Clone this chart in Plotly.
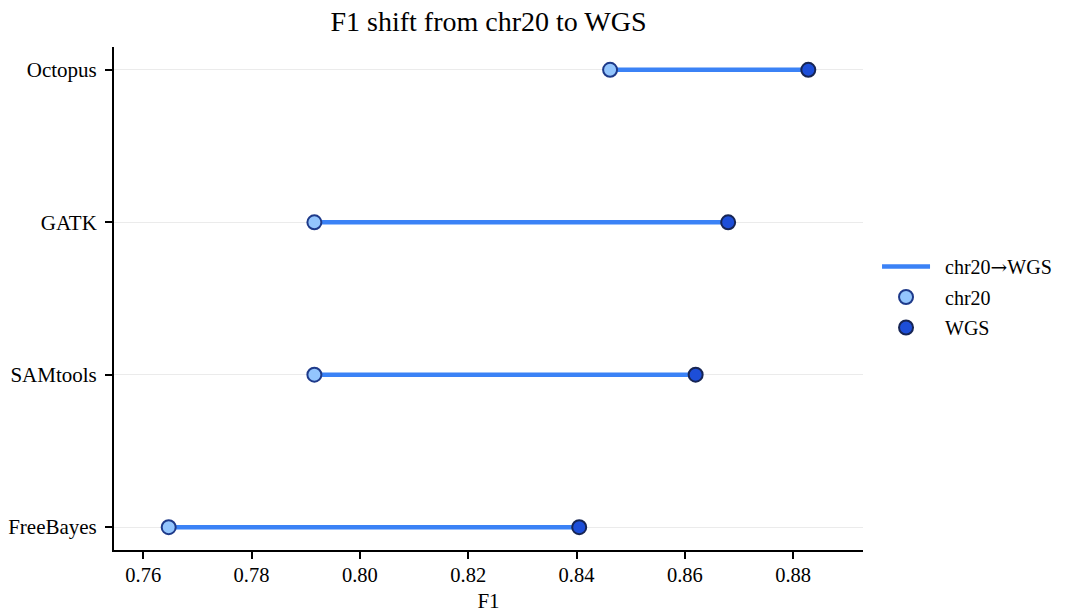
import plotly.graph_objects as go

tools = ["FreeBayes", "SAMtools", "GATK", "Octopus"]
f1_chr20 = [0.7647, 0.7916, 0.7916, 0.8462]
f1_wgs = [0.8405, 0.8620, 0.8680, 0.8828]

FONT = "Liberation Serif, Times New Roman, serif"
PAD = "&nbsp;&nbsp;"

line_x, line_y = [], []
for t, a, b in zip(tools, f1_chr20, f1_wgs):
    line_x += [a, b, None]
    line_y += [t, t, None]

fig = go.Figure()
fig.add_trace(go.Scatter(
    x=line_x, y=line_y, mode="lines",
    name=PAD + 'chr20<span style="font-family:DejaVu Serif">→</span>WGS',
    line=dict(color="#3b82f6", width=4.5), legendgroup="a",
))
fig.add_trace(go.Scatter(
    x=f1_chr20, y=tools, mode="markers", name=PAD + "chr20",
    marker=dict(size=14, color="#93c5fd", line=dict(color="#1e3a8a", width=2)),
    legendgroup="b",
))
fig.add_trace(go.Scatter(
    x=f1_wgs, y=tools, mode="markers", name=PAD + "WGS",
    marker=dict(size=14, color="#1d4ed8", line=dict(color="#172554", width=2)),
    legendgroup="c",
))

fig.update_layout(
    width=1065, height=613,
    margin=dict(l=114, r=202, t=47, b=63),
    paper_bgcolor="white", plot_bgcolor="white",
    font=dict(family=FONT, color="black", size=20),
    title=dict(text="F1 shift from chr20 to WGS", x=0.4587, xanchor="center",
               y=0.965, yanchor="middle", font=dict(size=28, family=FONT)),
    xaxis=dict(
        range=[0.7546, 0.8929], tickvals=[0.76, 0.78, 0.80, 0.82, 0.84, 0.86, 0.88],
        ticktext=["0.76", "0.78", "0.80", "0.82", "0.84", "0.86", "0.88"],
        showgrid=False, zeroline=False, showline=True, linecolor="black", linewidth=2,
        ticks="outside", ticklen=7, tickwidth=1.5, tickcolor="black",
        ticklabelstandoff=-2, automargin=False,
        title=dict(text="F1", font=dict(size=21), standoff=20),
        tickfont=dict(size=20.5),
    ),
    yaxis=dict(
        range=[-0.15, 3.15], categoryorder="array", categoryarray=tools,
        showgrid=True, gridcolor="#ebebeb", gridwidth=1, zeroline=False,
        showline=True, linecolor="black", linewidth=2,
        ticks="outside", ticklen=7, tickwidth=1.5, tickcolor="black",
        ticklabelstandoff=4, automargin=False,
        tickfont=dict(size=21),
    ),
    legend=dict(xref="container", yref="container", x=0.8235, xanchor="left",
                y=0.5155, yanchor="middle",
                font=dict(size=20, family=FONT), tracegroupgap=1.5,
                itemwidth=48, bgcolor="rgba(0,0,0,0)"),
)

fig.write_html("out.html")
